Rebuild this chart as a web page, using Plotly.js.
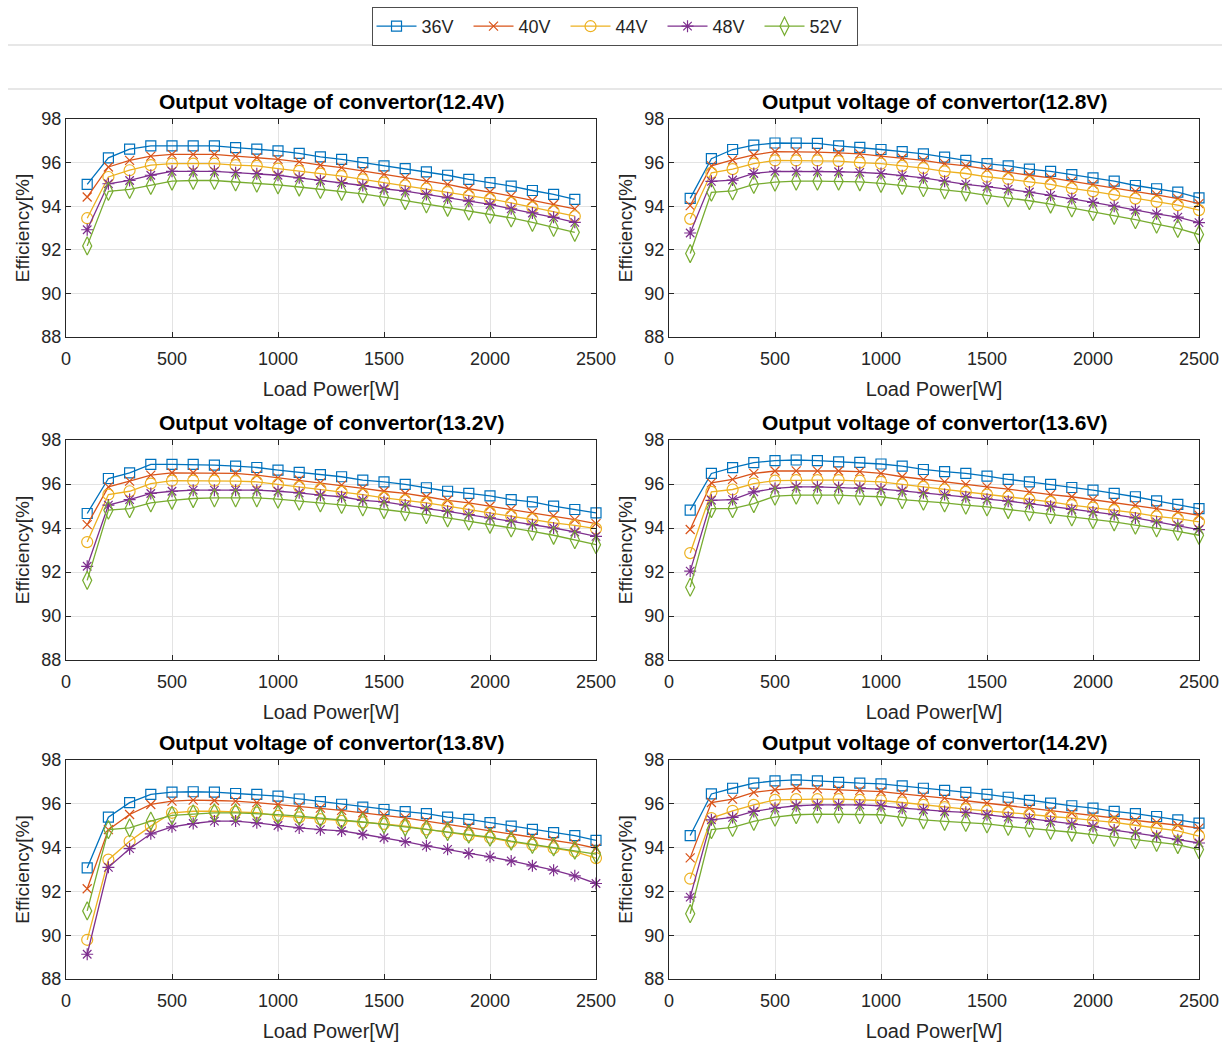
<!DOCTYPE html>
<html>
<head>
<meta charset="utf-8">
<script src="https://cdn.plot.ly/plotly-3.0.1.min.js"></script>
<style>html,body{margin:0;padding:0;background:#fff;}#chart{width:1231px;height:1044px;}</style>
</head>
<body>
<div id="chart"></div>
<script>
// ---- Data ----
const seriesNames = ["36V", "40V", "44V", "48V", "52V"];
const panelTitles = [
  "Output voltage of convertor(12.4V)", "Output voltage of convertor(12.8V)",
  "Output voltage of convertor(13.2V)", "Output voltage of convertor(13.6V)",
  "Output voltage of convertor(13.8V)", "Output voltage of convertor(14.2V)"
];
const loadPower24 = [100,200,300,400,500,600,700,800,900,1000,1100,1200,1300,1400,1500,1600,1700,1800,1900,2000,2100,2200,2300,2400];
const loadPower25 = [100,200,300,400,500,600,700,800,900,1000,1100,1200,1300,1400,1500,1600,1700,1800,1900,2000,2100,2200,2300,2400,2500];
const xTicks = [0, 500, 1000, 1500, 2000, 2500];
const yTicks = [88, 90, 92, 94, 96, 98];

// 12.4V
const eff124_36 = [95.0,96.22,96.62,96.77,96.77,96.77,96.77,96.69,96.62,96.54,96.42,96.26,96.15,96.0,95.85,95.72,95.57,95.42,95.23,95.08,94.92,94.72,94.54,94.31];
const eff124_40 = [94.42,95.8,96.1,96.3,96.38,96.38,96.38,96.3,96.23,96.15,96.03,95.88,95.77,95.62,95.46,95.3,95.15,95.0,94.8,94.65,94.46,94.26,94.08,93.88];
const eff124_44 = [93.45,95.34,95.65,95.88,95.95,95.95,95.95,95.88,95.85,95.72,95.62,95.49,95.38,95.23,95.08,94.95,94.8,94.65,94.49,94.34,94.15,93.95,93.77,93.54];
const eff124_48 = [92.92,95.03,95.18,95.42,95.6,95.6,95.6,95.54,95.49,95.42,95.3,95.18,95.08,94.95,94.8,94.69,94.54,94.38,94.23,94.08,93.88,93.69,93.49,93.26];
const eff124_52 = [92.18,94.68,94.77,94.95,95.15,95.18,95.18,95.11,95.06,94.98,94.88,94.77,94.68,94.57,94.42,94.26,94.11,93.95,93.77,93.62,93.46,93.26,93.03,92.8];
// 12.8V
const eff128_36 = [94.36,96.18,96.6,96.8,96.9,96.9,96.88,96.77,96.7,96.6,96.5,96.4,96.25,96.1,95.95,95.85,95.7,95.6,95.45,95.3,95.15,94.95,94.8,94.65,94.38];
const eff128_40 = [94.03,95.85,96.12,96.35,96.5,96.5,96.48,96.45,96.4,96.3,96.2,96.1,95.95,95.85,95.7,95.55,95.42,95.3,95.15,95.0,94.85,94.68,94.52,94.35,94.12];
const eff128_44 = [93.42,95.53,95.7,95.95,96.1,96.1,96.1,96.07,96.0,95.95,95.85,95.75,95.6,95.5,95.35,95.25,95.12,95.0,94.82,94.68,94.52,94.35,94.2,94.05,93.82];
const eff128_48 = [92.77,95.14,95.2,95.5,95.6,95.6,95.6,95.58,95.55,95.5,95.4,95.3,95.15,95.0,94.9,94.78,94.65,94.5,94.35,94.18,94.0,93.82,93.65,93.5,93.25];
const eff128_52 = [91.83,94.64,94.7,95.0,95.1,95.15,95.15,95.15,95.12,95.05,94.95,94.85,94.75,94.65,94.5,94.38,94.25,94.1,93.92,93.75,93.58,93.38,93.18,92.98,92.7];
// 13.2V
const eff132_36 = [94.66,96.25,96.51,96.89,96.89,96.89,96.86,96.81,96.75,96.63,96.53,96.43,96.33,96.18,96.1,95.98,95.83,95.67,95.57,95.46,95.29,95.19,94.99,94.84,94.69];
const eff132_40 = [94.15,95.87,96.13,96.4,96.51,96.51,96.51,96.48,96.4,96.28,96.18,96.05,95.95,95.8,95.67,95.57,95.42,95.26,95.14,94.99,94.85,94.7,94.55,94.38,94.2];
const eff132_44 = [93.36,95.52,95.67,96.02,96.15,96.15,96.15,96.13,96.1,95.99,95.87,95.77,95.64,95.52,95.37,95.26,95.14,94.99,94.84,94.7,94.55,94.4,94.23,94.12,93.97];
const eff132_48 = [92.26,95.04,95.29,95.57,95.67,95.72,95.72,95.72,95.72,95.67,95.6,95.49,95.42,95.26,95.19,95.04,94.88,94.76,94.61,94.46,94.31,94.15,94.0,93.82,93.62];
const eff132_52 = [91.62,94.81,94.88,95.14,95.26,95.34,95.37,95.37,95.37,95.31,95.22,95.14,95.07,94.96,94.84,94.73,94.61,94.46,94.31,94.17,94.0,93.85,93.67,93.47,93.24];
// 13.6V
const eff136_36 = [94.81,96.48,96.74,96.97,97.06,97.09,97.06,97.01,96.98,96.91,96.81,96.66,96.56,96.48,96.36,96.21,96.1,95.98,95.84,95.72,95.57,95.42,95.23,95.07,94.88];
const eff136_40 = [93.93,96.05,96.21,96.48,96.59,96.6,96.6,96.59,96.56,96.48,96.33,96.21,96.1,95.98,95.87,95.77,95.64,95.52,95.42,95.29,95.16,95.04,94.88,94.73,94.58];
const eff136_44 = [92.86,95.64,95.75,96.02,96.15,96.18,96.18,96.18,96.15,96.1,95.98,95.87,95.75,95.64,95.52,95.42,95.29,95.19,95.04,94.93,94.81,94.69,94.53,94.43,94.28];
const eff136_48 = [92.04,95.26,95.29,95.64,95.8,95.87,95.87,95.84,95.83,95.77,95.69,95.6,95.52,95.42,95.31,95.22,95.11,94.99,94.84,94.73,94.61,94.46,94.28,94.13,93.93];
const eff136_52 = [91.31,94.88,94.88,95.11,95.45,95.49,95.49,95.49,95.45,95.42,95.29,95.22,95.14,95.04,94.96,94.84,94.73,94.61,94.5,94.38,94.28,94.13,94.0,93.85,93.67];
// 13.8V
const eff138_36 = [93.07,95.39,96.05,96.43,96.53,96.55,96.53,96.47,96.43,96.35,96.22,96.1,95.98,95.85,95.74,95.64,95.55,95.39,95.29,95.14,94.98,94.83,94.68,94.55,94.33];
const eff138_40 = [92.12,94.82,95.51,95.97,96.12,96.17,96.15,96.12,96.05,95.97,95.88,95.8,95.7,95.59,95.48,95.36,95.21,95.06,94.94,94.79,94.64,94.48,94.33,94.18,93.97];
const eff138_44 = [89.79,93.45,94.29,94.98,95.59,95.66,95.66,95.63,95.6,95.45,95.38,95.3,95.22,95.15,95.08,94.98,94.83,94.71,94.56,94.45,94.26,94.12,93.97,93.82,93.52];
const eff138_48 = [89.13,93.1,93.95,94.63,94.95,95.1,95.21,95.21,95.13,95.01,94.9,94.82,94.76,94.61,94.45,94.27,94.08,93.92,93.73,93.58,93.39,93.17,92.97,92.71,92.36];
const eff138_52 = [91.11,94.82,94.9,95.21,95.47,95.54,95.59,95.59,95.56,95.51,95.44,95.36,95.26,95.17,95.06,94.94,94.82,94.73,94.61,94.48,94.3,94.15,94.03,93.88,93.7];
// 14.2V
const eff142_36 = [94.55,96.45,96.71,96.94,97.05,97.09,97.05,96.98,96.94,96.91,96.82,96.71,96.61,96.52,96.43,96.3,96.16,96.03,95.91,95.8,95.65,95.55,95.42,95.27,95.12];
const eff142_40 = [93.53,96.06,96.21,96.52,96.64,96.71,96.68,96.64,96.61,96.56,96.45,96.36,96.26,96.14,96.03,95.91,95.8,95.68,95.58,95.45,95.35,95.24,95.15,95.02,94.89];
const eff142_44 = [92.58,95.35,95.68,95.95,96.18,96.21,96.21,96.21,96.18,96.15,96.06,95.95,95.85,95.76,95.68,95.61,95.52,95.42,95.35,95.24,95.15,95.02,94.89,94.76,94.52];
const eff142_48 = [91.74,95.27,95.38,95.65,95.8,95.91,95.95,95.95,95.95,95.91,95.8,95.73,95.65,95.61,95.5,95.39,95.32,95.2,95.08,94.97,94.8,94.67,94.52,94.36,94.21];
const eff142_52 = [90.98,94.82,94.92,95.2,95.39,95.5,95.53,95.53,95.5,95.5,95.38,95.27,95.2,95.15,95.08,94.97,94.89,94.79,94.7,94.59,94.47,94.36,94.24,94.14,93.91];

const panels = [
  {x: loadPower24, ys: [eff124_36, eff124_40, eff124_44, eff124_48, eff124_52]},
  {x: loadPower25, ys: [eff128_36, eff128_40, eff128_44, eff128_48, eff128_52]},
  {x: loadPower25, ys: [eff132_36, eff132_40, eff132_44, eff132_48, eff132_52]},
  {x: loadPower25, ys: [eff136_36, eff136_40, eff136_44, eff136_48, eff136_52]},
  {x: loadPower25, ys: [eff138_36, eff138_40, eff138_44, eff138_48, eff138_52]},
  {x: loadPower25, ys: [eff142_36, eff142_40, eff142_44, eff142_48, eff142_52]}
];

// ---- Styles ----
const colors = ["#0072BD", "#D95319", "#EDB120", "#7E2F8E", "#77AC30"];
const symbols = ["square-open", "x-thin-open", "circle-open", "asterisk-open", "diamond-tall-open"];
const sizes = [10, 9, 11, 10, 13];
const W = 1231, H = 1044;
const colPx = [[66, 596], [669, 1199]];
const rowPx = [[119, 337], [440, 660], [760, 979]];
const FONT = "Liberation Sans, Arial, sans-serif";
const INK = "#262626";

const traces = [];
const layout = {
  width: W, height: H,
  margin: {l: 0, r: 0, t: 0, b: 0},
  paper_bgcolor: "#ffffff", plot_bgcolor: "#ffffff",
  font: {family: FONT, color: INK, size: 18},
  showlegend: true,
  legend: {
    orientation: "h", x: 0.4992, xanchor: "center", y: 1 - 7 / H, yanchor: "top",
    bordercolor: "#4d4d4d", borderwidth: 1, bgcolor: "#ffffff",
    font: {size: 18, color: INK, family: FONT}, itemwidth: 40, entrywidth: 42,
    tracegroupgap: 0
  },
  annotations: [],
  shapes: [
    {type: "line", xref: "paper", yref: "paper", x0: 8 / W, x1: 1222 / W, y0: 1 - 45 / H, y1: 1 - 45 / H, line: {color: "#cfcfcf", width: 1}},
    {type: "line", xref: "paper", yref: "paper", x0: 8 / W, x1: 1222 / W, y0: 1 - 89 / H, y1: 1 - 89 / H, line: {color: "#cfcfcf", width: 1}}
  ]
};

panels.forEach((p, i) => {
  const k = i + 1;
  const col = i % 2, row = Math.floor(i / 2);
  const xs = colPx[col], ysPx = rowPx[row];
  const xa = "xaxis" + (k === 1 ? "" : k), ya = "yaxis" + (k === 1 ? "" : k);
  const xr = "x" + (k === 1 ? "" : k), yr = "y" + (k === 1 ? "" : k);
  layout[xa] = {
    domain: [xs[0] / W, xs[1] / W], anchor: yr, range: [0, 2500],
    tickvals: xTicks, ticktext: xTicks.map(String),
    ticks: "inside", ticklen: 5, tickcolor: INK, mirror: "ticks",
    showline: true, linecolor: INK, linewidth: 1,
    showgrid: true, gridcolor: "#e3e3e3", gridwidth: 1, zeroline: false,
    tickfont: {size: 18, color: INK, family: FONT}, ticklabelstandoff: 5,
    title: {text: "Load Power[W]", font: {size: 20, color: INK, family: FONT}, standoff: 14}
  };
  layout[ya] = {
    domain: [1 - ysPx[1] / H, 1 - ysPx[0] / H], anchor: xr, range: [88, 98],
    tickvals: yTicks, ticktext: yTicks.map(String),
    ticks: "inside", ticklen: 5, tickcolor: INK, mirror: "ticks",
    showline: true, linecolor: INK, linewidth: 1,
    showgrid: true, gridcolor: "#e3e3e3", gridwidth: 1, zeroline: false,
    tickfont: {size: 18, color: INK, family: FONT},
    title: {text: "Efficiency[%]", font: {size: 19, color: INK, family: FONT}, standoff: 6}
  };
  layout.annotations.push({
    text: "<b>" + panelTitles[i] + "</b>", xref: "paper", yref: "paper",
    x: (xs[0] + xs[1]) / 2 / W, y: 1 - (ysPx[0] - 4) / H, xanchor: "center", yanchor: "bottom",
    showarrow: false, font: {size: 21, color: "#000000", family: FONT}
  });
  p.ys.forEach((yv, s) => {
    traces.push({
      type: "scatter", mode: "lines+markers", x: p.x, y: yv,
      xaxis: xr, yaxis: yr, name: seriesNames[s], legendgroup: seriesNames[s],
      showlegend: i === 0,
      line: {color: colors[s], width: 1.3},
      marker: {symbol: symbols[s], size: sizes[s], color: colors[s], line: {color: colors[s], width: 1.2}},
      cliponaxis: false
    });
  });
});

Plotly.newPlot("chart", traces, layout, {displayModeBar: false, staticPlot: true});
</script>
</body>
</html>
